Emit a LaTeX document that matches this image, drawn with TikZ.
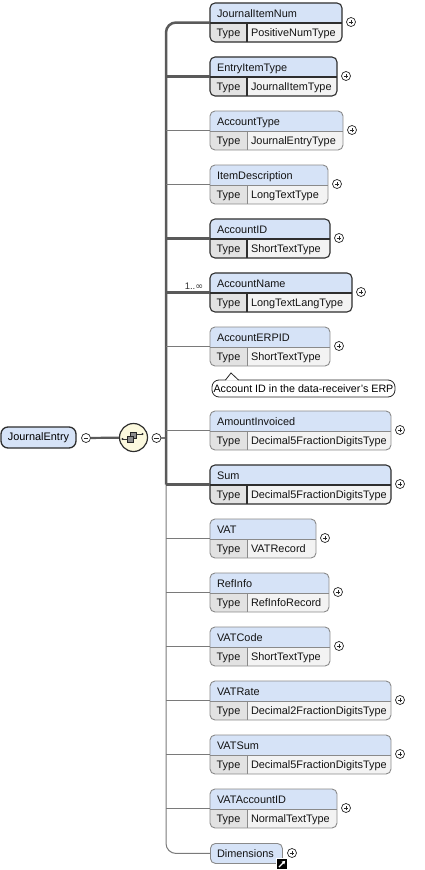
\documentclass[tikz,border=0pt]{standalone}
\usepackage{fontspec}
\setmainfont{Liberation Sans}
\newfontfamily\djv{DejaVu Sans}
\usetikzlibrary{arrows.meta}
\definecolor{hdrfill}{HTML}{D6E3F7}
\definecolor{typefill}{HTML}{E2E2E2}
\definecolor{valfill}{HTML}{F3F3F3}
\definecolor{reqc}{HTML}{2E2E2E}
\definecolor{optc}{HTML}{8A8A8A}
\definecolor{spinec}{HTML}{5A5A5A}
\definecolor{thinc}{HTML}{7A7A7A}
\definecolor{compfill}{HTML}{FCF9DE}
\tikzset{
  reqb/.style={draw=reqc,line width=1.1pt},
  optb/.style={draw=optc,line width=0.9pt},
  ebox/.style={rounded corners=5pt,minimum height=39pt,inner sep=0pt,outer sep=0pt},
  etext/.style={inner sep=0pt,outer sep=0pt,font=\fontsize{10.9}{12}\selectfont,text=black!92},
  reqline/.style={draw=spinec,line width=2.5pt},
  optline/.style={draw=thinc,line width=1pt},
  pm/.style={circle,draw=black!85,fill=white,minimum size=9pt,inner sep=0pt,line width=0.7pt},
  plus/.style={pm,path picture={\draw[line width=0.8pt]
     ([xshift=-2.4pt]path picture bounding box.center) -- ([xshift=2.4pt]path picture bounding box.center)
     ([yshift=-2.4pt]path picture bounding box.center) -- ([yshift=2.4pt]path picture bounding box.center);}},
  minus/.style={pm,path picture={\draw[line width=0.8pt]
     ([xshift=-2.4pt]path picture bounding box.center) -- ([xshift=2.4pt]path picture bounding box.center);}},
}
% #1 name, #2 top, #3 right, #4 title, #5 type, #6 border style
\newcommand\xelem[6]{%
  \begin{scope}
    \clip[rounded corners=5pt] (210,#2) rectangle (#3,#2+39);
    \fill[hdrfill] (210,#2) rectangle (#3,#2+20);
    \fill[typefill] (210,#2+20) rectangle (247,#2+39);
    \fill[valfill] (247,#2+20) rectangle (#3,#2+39);
  \end{scope}
  \draw[#6] (210,#2+20) -- (#3,#2+20) (247,#2+20) -- (247,#2+39);
  \node[ebox,#6,minimum width=#3pt-210pt,anchor=north west] (#1) at (210,#2) {};
  \node[etext,anchor=base west] (#1-n) at (217,#2+14.5) {#4};
  \node[etext,anchor=base] (#1-tl) at (228.5,#2+33.7) {Type};
  \node[etext,anchor=base west] (#1-tv) at (251,#2+33.7) {#5};
  \node[plus] (#1-p) at (#3+9,#2+19) {};
}
\begin{document}
\begin{tikzpicture}[x=1pt,y=-1pt]
\useasboundingbox (0,0) rectangle (424,870);
\fill[white] (0,0) rectangle (424,870);
\coordinate (sp) at (166,0);

% elements
\xelem{jin}{3}{342}{JournalItemNum}{PositiveNumType}{reqb}
\xelem{eit}{57}{337}{EntryItemType}{JournalItemType}{reqb}
\xelem{act}{111}{343}{AccountType}{JournalEntryType}{optb}
\xelem{itd}{165}{328}{ItemDescription}{LongTextType}{optb}
\xelem{aid}{219}{330}{AccountID}{ShortTextType}{reqb}
\xelem{anm}{273}{352}{AccountName}{LongTextLangType}{reqb}
\xelem{aep}{327}{330}{AccountERPID}{ShortTextType}{optb}
\xelem{ain}{411}{391}{AmountInvoiced}{Decimal5FractionDigitsType}{optb}
\xelem{sum}{465}{391}{Sum}{Decimal5FractionDigitsType}{reqb}
\xelem{vat}{519}{316}{VAT}{VATRecord}{optb}
\xelem{ref}{573}{329}{RefInfo}{RefInfoRecord}{optb}
\xelem{vcd}{627}{330}{VATCode}{ShortTextType}{optb}
\xelem{vrt}{681}{391}{VATRate}{Decimal2FractionDigitsType}{optb}
\xelem{vsm}{735}{391}{VATSum}{Decimal5FractionDigitsType}{optb}
\xelem{vac}{789}{337}{VATAccountID}{NormalTextType}{optb}

% Dimensions
\node[optb,fill=hdrfill,rounded corners=5pt,minimum width=72pt,minimum height=20pt,inner sep=0pt,anchor=north west] (dim) at (210,843) {};
\node[etext,anchor=base west] (dim-n) at (217,857.5) {Dimensions};
\node[plus] (dim-p) at (292,853) {};
\node[fill=black,draw=white,line width=0.6pt,minimum size=10.5pt,inner sep=0pt] (dim-l) at (282,864) {};
\draw[white,line width=1.1pt,-{Triangle[length=3.2pt,width=3.6pt]}] ([shift={(-3pt,-3pt)}]dim-l.center) -- ([shift={(3.2pt,3.2pt)}]dim-l.center);

% annotation
\node[draw=black!85,line width=0.8pt,fill=white,rounded corners=7pt,minimum width=183pt,minimum height=17pt,inner sep=0pt,font=\fontsize{10.7}{12}\selectfont] (ann) at (303.5,388.5) {Account ID in the data-receiver's ERP};
\fill[white] (225.5,380.6) -- (231,373) -- (238.5,380.6) -- cycle;
\draw[black!85,line width=0.8pt] (225.5,380) -- (231,373) -- (238.5,380);

% cardinality
\node[inner sep=0pt,font=\fontsize{9.5}{10}\selectfont,text=black!80,anchor=base] (card) at (194,289) {1..{\djv ∞}};

% root
\node[draw=reqc,line width=1.3pt,fill=hdrfill,rounded corners=7pt,minimum width=75pt,minimum height=21pt,inner sep=0pt,font=\fontsize{10.9}{12}\selectfont] (je) at (38.5,437.5) {JournalEntry};
\node[minus] (je-m) at (86,438) {};
\node[circle,draw=reqc,line width=1.2pt,fill=compfill,minimum size=28pt,inner sep=0pt] (seq) at (133.5,437.5) {};
\node[minus] (seq-m) at (156.5,438) {};
\draw[reqline,line width=2.2pt] (je-m) -- (seq);
\draw[optline,line width=1.3pt] (seq-m) -- (sp |- seq-m);
% sequence icon
\draw[black!80,line width=0.8pt] (122.5,439) -- (127,439) (136.5,434) -- (142.5,434);
\fill[black!80] (122.5,439) circle (1.1pt) (142.5,434) circle (1.1pt);
\draw[black!85,fill=black!45,line width=0.6pt] (130.5,432.5) rectangle (136.5,438.5);
\draw[black!85,fill=black!45,line width=0.6pt] (127,436) rectangle (133,442);

% spine
\draw[reqline] (jin.west) -- ([xshift=10pt]sp |- jin.west) arc[start angle=90,end angle=180,radius=10pt] -- (sp |- sum.west);
\draw[optline] (sp |- sum.west) -- ([yshift=10pt]sp |- dim.west) arc[start angle=180,end angle=270,radius=10pt] -- (dim.west);

% connectors
\foreach \n in {eit,aid,anm,sum} \draw[reqline] (sp |- \n.west) -- (\n.west);
\foreach \n in {act,itd,aep,ain,vat,ref,vcd,vrt,vsm,vac} \draw[optline] (sp |- \n.west) -- (\n.west);
\end{tikzpicture}
\end{document}
